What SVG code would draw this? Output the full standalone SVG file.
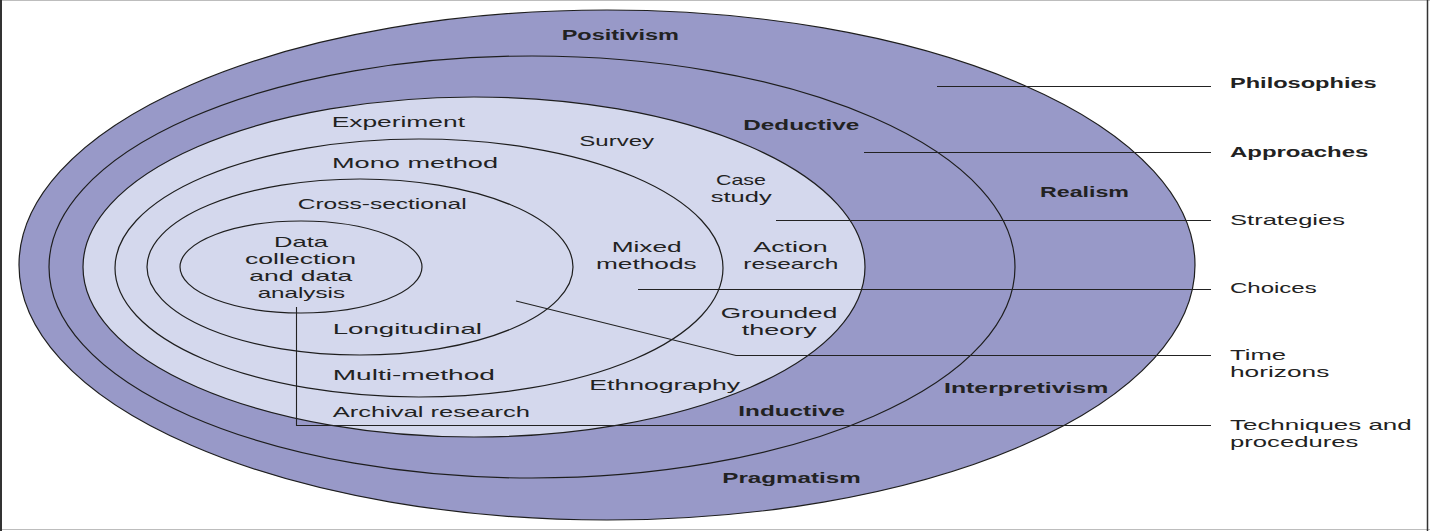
<svg xmlns="http://www.w3.org/2000/svg" width="1430" height="531" viewBox="0 0 1430 531">
<style>
.ring{stroke:#1e1e1e;stroke-width:1.2}
.dark{fill:#9899c8}
.light{fill:#d4d8ed}
.conn{stroke:#222;stroke-width:1.1;fill:none}
text{font-family:"Liberation Sans","Open Sans",sans-serif;font-size:15px;fill:#222}
.b{font-weight:bold;font-size:14.5px}
</style>
<rect width="1430" height="531" fill="#fff"/>
<g id="frame">
<line x1="0" y1="0.5" x2="1430" y2="0.5" stroke="#bdbdbd" stroke-width="1.2"/>
<line x1="0" y1="529.5" x2="1430" y2="529.5" stroke="#bdbdbd" stroke-width="1.2"/>
<line x1="1" y1="0" x2="1" y2="531" stroke="#333" stroke-width="2"/>
<line x1="1427.5" y1="0" x2="1427.5" y2="531" stroke="#333" stroke-width="1.5"/>
</g>
<g id="philosophies">
<ellipse class="ring dark" cx="607" cy="265" rx="588" ry="255"/>
<text class="b" x="561.7" y="40" textLength="117.3" lengthAdjust="spacingAndGlyphs">Positivism</text>
<text class="b" x="1040" y="196.7" textLength="89" lengthAdjust="spacingAndGlyphs">Realism</text>
<text class="b" x="944" y="393.3" textLength="164.3" lengthAdjust="spacingAndGlyphs">Interpretivism</text>
<text class="b" x="722.3" y="482.7" textLength="138.4" lengthAdjust="spacingAndGlyphs">Pragmatism</text>
</g>
<g id="approaches">
<ellipse class="ring dark" cx="532" cy="267" rx="483" ry="211"/>
<text class="b" x="743.3" y="130" textLength="116" lengthAdjust="spacingAndGlyphs">Deductive</text>
<text class="b" x="738.3" y="415.7" textLength="106.7" lengthAdjust="spacingAndGlyphs">Inductive</text>
</g>
<g id="strategies">
<ellipse class="ring light" cx="474" cy="267" rx="391" ry="170"/>
<text x="331.7" y="127" textLength="133.3" lengthAdjust="spacingAndGlyphs">Experiment</text>
<text x="579.3" y="145.5" textLength="74.7" lengthAdjust="spacingAndGlyphs">Survey</text>
<text x="716" y="185" textLength="50" lengthAdjust="spacingAndGlyphs">Case</text>
<text x="710.7" y="202" textLength="61" lengthAdjust="spacingAndGlyphs">study</text>
<text x="753.3" y="251.5" textLength="74.4" lengthAdjust="spacingAndGlyphs">Action</text>
<text x="743.3" y="268.5" textLength="95" lengthAdjust="spacingAndGlyphs">research</text>
<text x="720.7" y="317.5" textLength="116.6" lengthAdjust="spacingAndGlyphs">Grounded</text>
<text x="741.7" y="334.5" textLength="75" lengthAdjust="spacingAndGlyphs">theory</text>
<text x="589.3" y="390" textLength="150.7" lengthAdjust="spacingAndGlyphs">Ethnography</text>
<text x="332.7" y="417.3" textLength="197.3" lengthAdjust="spacingAndGlyphs">Archival research</text>
</g>
<g id="choices">
<ellipse class="ring light" cx="419" cy="268" rx="304" ry="129"/>
<text x="332" y="168" textLength="166" lengthAdjust="spacingAndGlyphs">Mono method</text>
<text x="611.7" y="251.5" textLength="70" lengthAdjust="spacingAndGlyphs">Mixed</text>
<text x="596" y="268.5" textLength="100.7" lengthAdjust="spacingAndGlyphs">methods</text>
<text x="332.7" y="380" textLength="162.3" lengthAdjust="spacingAndGlyphs">Multi-method</text>
</g>
<g id="time-horizons">
<ellipse class="ring light" cx="360" cy="267" rx="213" ry="88"/>
<text x="297.7" y="209.3" textLength="169" lengthAdjust="spacingAndGlyphs">Cross-sectional</text>
<text x="332.7" y="333.5" textLength="149.3" lengthAdjust="spacingAndGlyphs">Longitudinal</text>
</g>
<g id="techniques">
<ellipse class="ring light" cx="301" cy="267" rx="121" ry="46"/>
<text x="274" y="246.5" textLength="54" lengthAdjust="spacingAndGlyphs">Data</text>
<text x="245" y="263.5" textLength="111" lengthAdjust="spacingAndGlyphs">collection</text>
<text x="249.3" y="280.5" textLength="103" lengthAdjust="spacingAndGlyphs">and data</text>
<text x="257.7" y="297.5" textLength="87.3" lengthAdjust="spacingAndGlyphs">analysis</text>
</g>
<g id="connectors">
<line class="conn" x1="937" y1="86.5" x2="1211" y2="86.5"/>
<line class="conn" x1="864" y1="152.5" x2="1211" y2="152.5"/>
<line class="conn" x1="776" y1="220.5" x2="1211" y2="220.5"/>
<line class="conn" x1="638" y1="289.5" x2="1211" y2="289.5"/>
<polyline class="conn" points="516,301 736,355.5 1211,355.5"/>
<polyline class="conn" points="296.5,307 296.5,425.5 1211,425.5"/>
</g>
<g id="labels">
<text class="b" x="1230" y="88.3" textLength="146.7" lengthAdjust="spacingAndGlyphs">Philosophies</text>
<text class="b" x="1230" y="157" textLength="138.3" lengthAdjust="spacingAndGlyphs">Approaches</text>
<text x="1230" y="225" textLength="115" lengthAdjust="spacingAndGlyphs">Strategies</text>
<text x="1230" y="293.3" textLength="86.7" lengthAdjust="spacingAndGlyphs">Choices</text>
<text x="1230" y="359.5" textLength="56" lengthAdjust="spacingAndGlyphs">Time</text>
<text x="1230" y="376.5" textLength="99.3" lengthAdjust="spacingAndGlyphs">horizons</text>
<text x="1230" y="429.5" textLength="181.7" lengthAdjust="spacingAndGlyphs">Techniques and</text>
<text x="1230" y="446.5" textLength="128.3" lengthAdjust="spacingAndGlyphs">procedures</text>
</g>
</svg>
